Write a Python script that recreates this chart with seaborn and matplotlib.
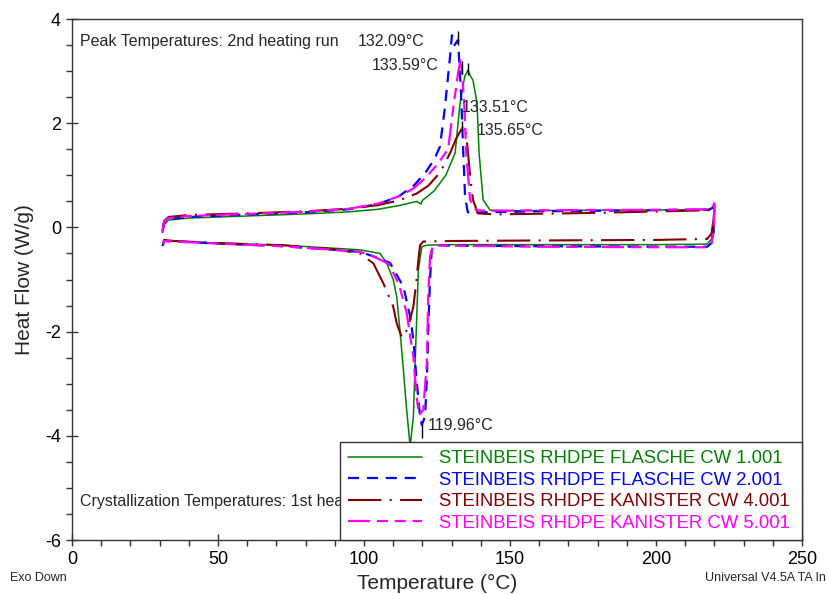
import matplotlib
matplotlib.use("Agg")
import matplotlib.pyplot as plt
from matplotlib.lines import Line2D
from matplotlib.ticker import MultipleLocator
import numpy as np
import pandas as pd
import seaborn as sns

# ---- sample names -------------------------------------------------------
samples = [
    "STEINBEIS RHDPE FLASCHE CW 1.001",
    "STEINBEIS RHDPE FLASCHE CW 2.001",
    "STEINBEIS RHDPE KANISTER CW 4.001",
    "STEINBEIS RHDPE KANISTER CW 5.001",
]

# ---- heating runs (temperature in °C, heat flow in W/g) -----------------
heat_T_1 = [31, 31.5, 33, 40, 60, 80, 95, 105, 112, 118, 119.5, 120, 124, 128,
            131.2, 132.9, 134.5, 135.6, 136.5, 137.3, 138.7, 139.4, 140.8,
            143.2, 150, 180, 218, 219.5, 220]
heat_W_1 = [-0.1, 0.05, 0.14, 0.18, 0.22, 0.26, 0.3, 0.35, 0.42, 0.5, 0.45,
            0.52, 0.7, 1.0, 1.43, 2.39, 2.9, 3.02, 2.9, 2.83, 2.39, 1.43, 0.53,
            0.33, 0.32, 0.33, 0.34, 0.38, 0.45]

heat_T_2 = [31, 31.5, 33, 40, 60, 80, 95, 105, 112, 117, 121, 124, 126, 127.7,
            129.5, 130.1, 131, 132.2, 133.2, 134, 134.6, 135.5, 136.5, 140,
            160, 200, 218, 219.5, 220]
heat_W_2 = [-0.08, 0.08, 0.16, 0.2, 0.25, 0.29, 0.35, 0.45, 0.6, 0.8, 1.05,
            1.3, 1.55, 2.3, 3.3, 3.69, 3.5, 3.6, 2.6, 1.43, 0.6, 0.3, 0.26,
            0.29, 0.31, 0.33, 0.34, 0.38, 0.45]

heat_T_4 = [31, 31.5, 33, 40, 60, 80, 95, 105, 112, 118, 122, 126, 129.5,
            131.5, 133.6, 134.3, 135, 135.6, 136.5, 137.3, 139, 145, 180, 218,
            219.5, 220]
heat_W_4 = [-0.05, 0.12, 0.2, 0.24, 0.27, 0.31, 0.36, 0.43, 0.52, 0.65, 0.8,
            1.05, 1.43, 1.7, 1.91, 1.8, 1.81, 1.43, 0.9, 0.53, 0.27, 0.25,
            0.28, 0.33, 0.4, 0.48]

heat_T_5 = [31, 31.5, 33, 40, 60, 80, 95, 105, 112, 117, 121, 125, 128.8,
            130.8, 132.3, 133.2, 134.3, 135, 136.3, 138.4, 142, 160, 200, 218,
            219.5, 220]
heat_W_5 = [-0.1, 0.1, 0.18, 0.22, 0.26, 0.3, 0.36, 0.46, 0.6, 0.75, 0.95,
            1.2, 1.5, 2.4, 3.0, 3.25, 2.4, 1.45, 0.53, 0.33, 0.32, 0.33, 0.34,
            0.35, 0.4, 0.47]

# ---- cooling runs -------------------------------------------------------
cool_T_1 = [220, 219.7, 219, 217.5, 200, 160, 130, 121.5, 119.8, 118.6, 118.1,
            117.5, 116.9, 115.8, 114.6, 113.5, 112.3, 111.2, 110, 107.8, 105.5,
            98.6, 90, 72, 50, 35, 31.5, 31]
cool_W_1 = [0.3, 0.05, -0.22, -0.32, -0.33, -0.33, -0.33, -0.34, -0.37,
            -0.82, -1.65, -2.61, -3.63, -4.2, -3.5, -2.74, -1.97, -1.33, -1.0,
            -0.69, -0.5, -0.43, -0.4, -0.34, -0.3, -0.26, -0.25, -0.35]

cool_T_2 = [220, 219.7, 219, 217.5, 200, 160, 130, 124.3, 123.2, 122.6, 122,
            121.5, 120.9, 119.8, 119.2, 118, 116.9, 115.8, 113.5, 108.9, 103,
            98.6, 90, 72, 50, 35, 31.5, 31]
cool_W_2 = [0.45, -0.1, -0.3, -0.37, -0.37, -0.36, -0.35, -0.34, -0.43,
            -1.0, -1.97, -2.93, -3.63, -3.79, -3.63, -2.93, -2.16, -1.71,
            -1.14, -0.68, -0.55, -0.47, -0.43, -0.36, -0.31, -0.27, -0.26,
            -0.36]

cool_T_4 = [220, 219.7, 219, 217.5, 200, 160, 130, 120.3, 119.2, 118.6, 118,
            116.9, 115.2, 113.5, 112.9, 111.2, 110, 106.6, 103.2, 98.6, 90, 72,
            50, 35, 31.5, 31]
cool_W_4 = [0.35, 0.15, -0.12, -0.22, -0.24, -0.25, -0.26, -0.27, -0.34,
            -0.63, -1.0, -1.52, -1.9, -2.11, -2.1, -1.84, -1.52, -1.07, -0.69,
            -0.5, -0.42, -0.34, -0.3, -0.26, -0.24, -0.32]

cool_T_5 = [220, 219.7, 219, 217.5, 200, 160, 130, 123.7, 122.6, 122, 121.5,
            120.3, 118.9, 118, 116.9, 114.6, 112, 108.5, 103, 98.6, 90, 72, 50,
            35, 31.5, 31]
cool_W_5 = [0.45, -0.1, -0.32, -0.38, -0.38, -0.37, -0.35, -0.34, -0.56,
            -1.33, -2.6, -3.5, -3.6, -3.25, -2.48, -1.64, -1.1, -0.7, -0.55,
            -0.47, -0.43, -0.36, -0.31, -0.27, -0.26, -0.38]

# ---- annotated peak / crystallization temperatures ----------------------
peak_temps = [132.09, 133.59, 133.51, 135.65]
peak_labels = ["132.09°C", "133.59°C", "133.51°C", "135.65°C"]
cryst_temps = [119.96]
cryst_labels = ["119.96°C"]

# ---- assemble a long-form table ----------------------------------------
runs = {
    samples[0]: [(heat_T_1, heat_W_1), (cool_T_1, cool_W_1)],
    samples[1]: [(heat_T_2, heat_W_2), (cool_T_2, cool_W_2)],
    samples[2]: [(heat_T_4, heat_W_4), (cool_T_4, cool_W_4)],
    samples[3]: [(heat_T_5, heat_W_5), (cool_T_5, cool_W_5)],
}
frames = []
for name, segs in runs.items():
    for k, (t, w) in enumerate(segs):
        frames.append(pd.DataFrame({"Temperature": t, "HeatFlow": w,
                                    "sample": name,
                                    "run": "heating" if k == 0 else "cooling"}))
df = pd.concat(frames, ignore_index=True)

colors = {samples[0]: "#008000", samples[1]: "#0000FF",
          samples[2]: "#800000", samples[3]: "#FF00FF"}
styles = {samples[0]: "-",
          samples[1]: (0, (5, 3.5)),
          samples[2]: (0, (16, 4, 1, 4)),
          samples[3]: (0, (10, 3, 5, 3, 5, 3))}
widths = {samples[0]: 1.1, samples[1]: 1.6, samples[2]: 1.5, samples[3]: 1.6}

sns.set_theme(style="ticks")
plt.rcParams["font.family"] = ["Liberation Sans", "DejaVu Sans"]
plt.rcParams["axes.unicode_minus"] = False

fig = plt.figure(figsize=(8.28, 5.94), dpi=100)
ax = fig.add_axes([0.087, 0.0909, 0.8816, 0.877])

for name in samples:
    sub = df[df["sample"] == name]
    sns.lineplot(data=sub, x="Temperature", y="HeatFlow", units="run",
                 estimator=None, sort=False, color=colors[name],
                 linestyle=styles[name], linewidth=widths[name],
                 legend=False, ax=ax)

ax.set_xlim(0, 250)
ax.set_ylim(-6, 4)
ax.xaxis.set_major_locator(MultipleLocator(50))
ax.xaxis.set_minor_locator(MultipleLocator(10))
ax.yaxis.set_major_locator(MultipleLocator(2))
ax.yaxis.set_minor_locator(MultipleLocator(0.5))
ax.tick_params(which="major", direction="inout", length=9, width=1,
               labelsize=13, color="#333333", labelcolor="black")
ax.tick_params(which="minor", direction="out", length=4, width=1,
               color="#333333")
for sp in ax.spines.values():
    sp.set_visible(True)
    sp.set_color("#333333")
    sp.set_linewidth(1.0)

ax.set_xlabel("Temperature (°C)", fontsize=15, labelpad=4)
ax.set_ylabel("Heat Flow (W/g)", fontsize=15, labelpad=8)

# peak and crystallization annotations
ax.text(2.7, 3.56, "Peak Temperatures: 2nd heating run", fontsize=11.5,
        va="center", ha="left")
ax.text(2.7, -5.27, "Crystallization Temperatures: 1st heating run",
        fontsize=11.5, va="center", ha="left", zorder=2)

label_pos = [(97.9, 3.56), (102.7, 3.1), (133.6, 2.31), (138.7, 1.87)]
mark_span = [(3.5, 3.78), (2.95, 3.2), (1.87, 2.05), (2.92, 3.15)]
for t, lab, (lx, ly), (y0, y1) in zip(peak_temps, peak_labels, label_pos,
                                      mark_span):
    ax.vlines(t, y0, y1, color="black", linewidth=1)
    ax.text(lx, ly, lab, fontsize=11.5, va="center", ha="left")
for t, lab in zip(cryst_temps, cryst_labels):
    ax.vlines(t, -4.05, -3.78, color="black", linewidth=1)
    ax.text(t + 1.9, -3.81, lab, fontsize=11.5, va="center", ha="left")

# legend with coloured labels
handles = [Line2D([], [], color=colors[n], linestyle=styles[n],
                  linewidth=widths[n]) for n in samples]
leg = ax.legend(handles, samples, loc="lower left",
                bbox_to_anchor=(0.367, 0.0, 0.633, 0.186), mode="expand",
                borderaxespad=0, frameon=True, fancybox=False,
                edgecolor="#333333", framealpha=1, fontsize=13.3,
                handlelength=4.0, handletextpad=0.9, labelspacing=0.24,
                borderpad=0.45,
                labelcolor=[colors[n] for n in samples])
leg.get_frame().set_linewidth(1.0)
leg.set_zorder(6)

narrow = ["Liberation Sans Narrow", "Liberation Sans", "DejaVu Sans"]
fig.text(10 / 828, 1 - 578 / 594, "Exo Down", fontsize=9, family=narrow,
         va="center", ha="left")
fig.text(826 / 828, 1 - 578 / 594, "Universal V4.5A TA In",
         fontsize=9, family=narrow, va="center", ha="right")

fig.savefig("out.png", dpi=100)
